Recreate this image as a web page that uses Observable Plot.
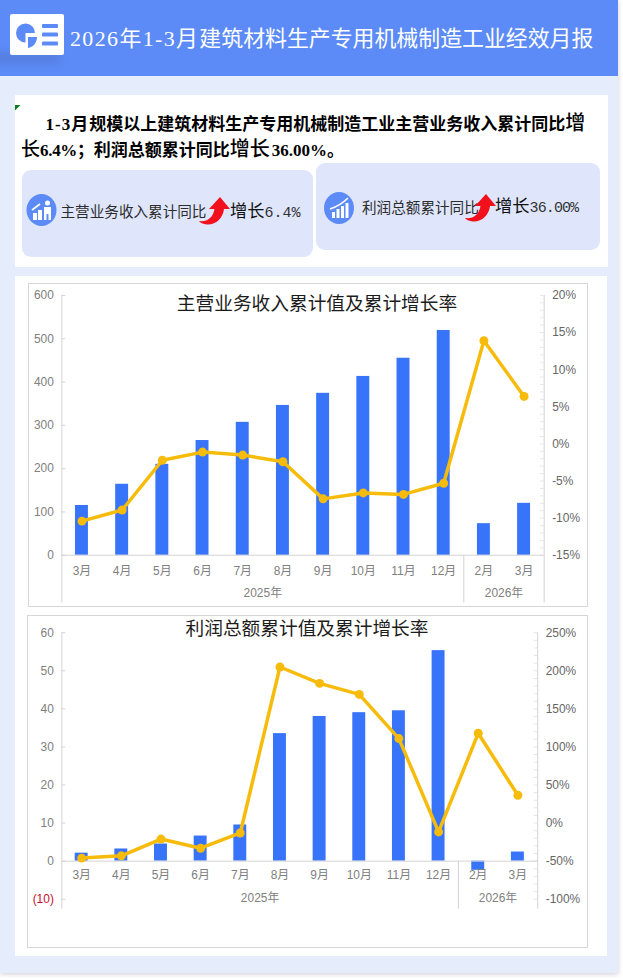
<!DOCTYPE html>
<html lang="zh">
<head>
<meta charset="utf-8">
<script src="https://cdn.jsdelivr.net/npm/d3@7"></script>
<script src="https://cdn.jsdelivr.net/npm/@observablehq/plot@0.6"></script>
<style>
html,body{margin:0;padding:0;background:#fff;}
body{width:623px;height:980px;position:relative;overflow:hidden;font-family:"Liberation Sans","Noto Sans CJK SC",sans-serif;}
.abs{position:absolute;white-space:nowrap;}
#page{left:0;top:0;width:618px;height:973px;background:#e5ecfc;box-shadow:0 1px 5px rgba(120,110,130,.35);}
#header{left:0;top:0;width:618px;height:76px;background:#5c8bf7;overflow:hidden;}
#smudge{left:-30px;top:54px;width:90px;height:8px;background:rgba(60,80,130,.28);filter:blur(5px);}
#logo{left:10px;top:14px;width:53.5px;height:41px;background:#fff;border-radius:2px;}
#headline{left:70px;top:24px;font:21.9px/30px "Liberation Serif","Noto Sans CJK SC",serif;color:#fff;}
#headline .a{letter-spacing:1.4px;}
.panel{background:#fff;}
.para{font:700 17px/24px "Liberation Serif","Noto Sans CJK SC",serif;color:#000;}
.para b{font-weight:500;font-size:20px;}
.card{background:#dfe6fc;border-radius:9px;}
.cardtext{font:14.6px/20px "Noto Sans CJK SC",sans-serif;color:#2c2c2c;}
.cardval{font:17.3px/22px "Noto Sans CJK SC",sans-serif;color:#111;}
.cardval span{font:15px/22px "Liberation Mono","Noto Sans CJK SC",monospace;color:#333;letter-spacing:-.9px;}
.frame{background:#fff;border:1px solid #d6d6d6;box-sizing:border-box;}
.frame svg{position:absolute;left:-1px;top:-1px;overflow:visible;background:transparent;}
.title{font:18.7px/24px "Noto Sans CJK SC",sans-serif;color:#1c1c1c;transform:translateX(-50%);}
</style>
</head>
<body>
<div class="abs" id="page"></div>
<div class="abs" id="header">
  <div class="abs" id="smudge"></div>
  <div class="abs" id="logo">
    <svg width="54" height="41" viewBox="0 0 54 41">
      <path d="M15.5 19 H25 A9.5 9.5 0 1 0 15.5 28.500 Z" fill="#5c8bf7"/>
      <path d="M18 23 H27 C27 29 23 33 18 34 Z" fill="#5c8bf7"/>
      <rect x="32" y="10" width="16" height="4" rx="1" fill="#5c8bf7"/>
      <rect x="32" y="18.500" width="16" height="4" rx="1" fill="#5c8bf7"/>
      <rect x="32" y="27.500" width="16" height="4" rx="1" fill="#5c8bf7"/>
    </svg>
  </div>
  <div class="abs" id="headline"><span class="a">2026年1-3月</span>建筑材料生产专用机械制造工业经效月报</div>
</div>

<div class="abs panel" style="left:15px;top:95px;width:592.500px;height:172px"></div>
<svg class="abs" style="left:15px;top:105px" width="6" height="6"><path d="M0 0H5.500L0 5.500Z" fill="#0f7a22"/></svg>
<div class="abs para" style="left:45.500px;top:110.500px"><span style="letter-spacing:1px">1-3月</span>规模以上建筑材料生产专用机械制造工业主营业务收入累计同比<b>增</b></div>
<div class="abs para" style="left:21px;top:137px"><b style="font-size:19px">长</b><span style="letter-spacing:-.3px">6.4%；</span>利润总额累计同比<b>增长</b><span style="margin-left:2px">36.00%。</span></div>

<div class="abs card" style="left:22px;top:170px;width:291px;height:87px"></div>
<div class="abs card" style="left:316px;top:163px;width:284px;height:87px"></div>

<svg class="abs" style="left:26px;top:193px" width="32" height="34" viewBox="0 0 32 34">
  <ellipse cx="15.500" cy="17" rx="15" ry="16" fill="#5c8bf7"/>
  <rect x="7" y="20" width="4" height="7" fill="#fff"/><rect x="12" y="17" width="4" height="10" fill="#fff"/>
  <circle cx="21.500" cy="10" r="2.500" fill="#fff"/><path d="M18 14h7v13h-2.500v-6h-2v6H18Z" fill="#fff"/>
  <path d="M6 17L14 11" stroke="#fff" stroke-width="1.600" fill="none"/>
</svg>
<svg class="abs" style="left:323px;top:191px" width="33" height="34" viewBox="0 0 33 34">
  <ellipse cx="16" cy="17" rx="15" ry="16" fill="#5c8bf7"/>
  <rect x="9" y="21" width="3" height="6" fill="#fff"/><rect x="13.500" y="18" width="3" height="9" fill="#fff"/>
  <rect x="18" y="15" width="3" height="12" fill="#fff"/><rect x="22.500" y="12" width="3" height="15" fill="#fff"/>
  <path d="M7 18C13 16 20 12 25 7" stroke="#fff" stroke-width="1.600" fill="none"/>
</svg>

<div class="abs cardtext" style="left:60.500px;top:201px">主营业务收入累计同比</div>
<div class="abs cardtext" style="left:362px;top:197px">利润总额累计同比</div>

<svg class="abs" style="left:199px;top:197px" width="32" height="28" viewBox="0 0 32 28"><path d="M0 24C8 25 14 21 15.500 12H10L21 0 31 12H25C24 21 17 28 8 27.500 4 27 1 26 0 24Z" fill="#f2101c"/></svg>
<svg class="abs" style="left:465px;top:194px" width="32" height="28" viewBox="0 0 32 28"><path d="M0 24C8 25 14 21 15.500 12H10L21 0 31 12H25C24 21 17 28 8 27.500 4 27 1 26 0 24Z" fill="#f2101c"/></svg>

<div class="abs cardval" style="left:230px;top:199px">增长<span style="letter-spacing:0">6.4%</span></div>
<div class="abs cardval" style="left:495px;top:194px">增长<span>36.00%</span></div>

<div class="abs panel" style="left:15px;top:276px;width:592px;height:679.500px"></div>

<div class="abs frame" id="chartA" style="left:28px;top:283px;width:559.500px;height:323.500px"></div>
<div class="abs frame" id="chartB" style="left:27px;top:615px;width:560.500px;height:332.500px"></div>
<div class="abs title" style="left:317px;top:290px">主营业务收入累计值及累计增长率</div>
<div class="abs title" style="left:307px;top:615px">利润总额累计值及累计增长率</div>

<script>
// Shared categories
const monthLabels = ["3月","4月","5月","6月","7月","8月","9月","10月","11月","12月","2月","3月"];
const yearLabels = ["2025年","2026年"];

// Revenue chart
const revenueValues = [115,164,210,265,307,346,374,413,455,519,73,120];
const revenueGrowth = [-10.4,-8.9,-2.2,-1.1,-1.5,-2.4,-7.4,-6.6,-6.8,-5.3,13.9,6.4];
const revenueLeftTicks = [0,100,200,300,400,500,600];
const revenueRightTicks = [-15,-10,-5,0,5,10,15,20];

// Profit chart
const profitValues = [2.1,3.2,4.5,6.6,9.5,33.5,38,39,39.5,55.3,-2.4,2.4];
const profitGrowth = [-46,-43,-21,-33,-13,205,183.5,169,111,-11.6,118,36.5];
const profitLeftTicks = [0,10,20,30,40,50,60];
const profitRightTicks = [-100,-50,0,50,100,150,200,250];

const BAR = "#3874f9", LINE = "#f6bb0b", AXIS = "#d4d4d4", MINOR = "#e4e4e4";
const LABEL = "#808080", RLABEL = "#666666";
const FONT = '"Liberation Sans","Noto Sans CJK SC",sans-serif';

function combo(o) {
  const {width, height, margin, leftDomain, rightDomain, leftTicks, rightTicks, minorStep,
         values, growth, axisBottom, labelDy, yearY, negativeTick} = o;
  const toLeft = d3.scaleLinear().domain(rightDomain).range(leftDomain);
  const plotW = width - margin.left - margin.right;
  const idx = d3.range(monthLabels.length);
  const minor = d3.range(rightDomain[0], rightDomain[1] + minorStep / 2, minorStep);
  const band = plotW / monthLabels.length;
  const barInset = (band - 13) / 2;
  return Plot.plot({
    width, height,
    marginLeft: margin.left, marginRight: margin.right, marginTop: margin.top, marginBottom: margin.bottom,
    style: {background: "transparent", fontFamily: FONT, fontSize: "12px", overflow: "visible"},
    x: {type: "band", domain: idx, padding: 0, round: false, axis: null},
    y: {domain: leftDomain, axis: null},
    marks: [
      // axis lines
      Plot.ruleX([0], {x: d => d, y1: axisBottom, y2: leftDomain[1], dx: -band / 2, stroke: AXIS}),
      Plot.ruleX([11], {x: d => d, y1: axisBottom, y2: leftDomain[1], dx: band / 2, stroke: AXIS}),
      Plot.ruleX([9], {x: d => d, y1: axisBottom, y2: 0, dx: band / 2, stroke: AXIS}),
      // ticks
      Plot.tickY(leftTicks, {y: d => d, stroke: AXIS, insetRight: plotW - 4}),
      negativeTick == null ? null : Plot.tickY([negativeTick], {y: d => d, stroke: AXIS, insetRight: plotW - 4}),
      Plot.tickY(minor, {y: d => toLeft(d), stroke: MINOR, insetLeft: plotW - 3.5}),
      // bars
      Plot.barY(values, {x: (d, i) => i, y: d => d, fill: BAR, insetLeft: barInset, insetRight: barInset}),
      Plot.ruleY([0], {stroke: AXIS}),
      // growth line
      Plot.line(growth, {x: (d, i) => i, y: d => toLeft(d), stroke: LINE, strokeWidth: 3.5, curve: "linear"}),
      Plot.dot(growth, {x: (d, i) => i, y: d => toLeft(d), r: 4.5, fill: LINE, stroke: "none"}),
      // axes
      Plot.axisY({anchor: "left", ticks: leftTicks, tickSize: 0, tickPadding: 8, label: null, fill: LABEL, fontSize: 12}),
      negativeTick == null ? null : Plot.axisY({anchor: "left", ticks: [negativeTick], tickSize: 0, tickPadding: 8, label: null, fill: "#c8102e", fontSize: 12, tickFormat: d => `(${Math.abs(d)})`}),
      Plot.axisY({anchor: "right", ticks: rightTicks.map(t => toLeft(t)), tickSize: 0, tickPadding: 8, label: null, fill: RLABEL, fontSize: 12,
        tickFormat: d => `${Math.round(toLeft.invert(d))}%`}),
      Plot.axisX({anchor: "bottom", tickSize: 0, tickPadding: 0, dy: labelDy, label: null, fill: LABEL, fontSize: 12, tickFormat: i => monthLabels[i]}),
      // group labels
      Plot.text([yearLabels[0]], {x: () => 4, y: () => yearY, dx: band / 2, fill: LABEL, fontSize: 12}),
      Plot.text([yearLabels[1]], {x: () => 10, y: () => yearY, dx: band / 2, fill: LABEL, fontSize: 12})
    ]
  });
}

document.getElementById("chartA").append(combo({
  width: 560, height: 324,
  margin: {left: 33.5, right: 42, top: 12, bottom: 51},
  leftDomain: [0, 600], rightDomain: [-15, 20],
  leftTicks: revenueLeftTicks, rightTicks: revenueRightTicks, minorStep: 1,
  values: revenueValues, growth: revenueGrowth,
  axisBottom: -110, labelDy: 11, yearY: -87
}));

document.getElementById("chartB").append(combo({
  width: 561, height: 333,
  margin: {left: 34.5, right: 48.5, top: 17.3, bottom: 48},
  leftDomain: [-10, 60], rightDomain: [-100, 250],
  leftTicks: profitLeftTicks, rightTicks: profitRightTicks, minorStep: 10,
  values: profitValues, growth: profitGrowth,
  axisBottom: -12.6, labelDy: -29, yearY: -9.6, negativeTick: -10
}));
</script>
</body>
</html>
